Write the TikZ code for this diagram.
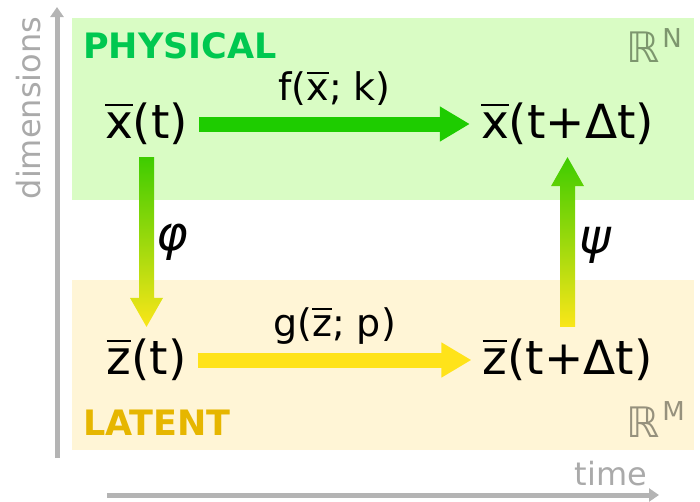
\documentclass[tikz,border=0pt]{standalone}
\usepackage{fontspec}
\setmainfont{DejaVu Sans}
\usepackage{tikz}
\usetikzlibrary{arrows.meta, positioning, calc}
\usepackage{xcolor}

\definecolor{panelgreen}{RGB}{217,252,196}
\definecolor{panelyellow}{RGB}{255,245,214}
\definecolor{arrowgreen}{RGB}{30,204,0}
\definecolor{arrowyellow}{RGB}{255,227,26}
\definecolor{shadegreen}{RGB}{62,204,0}
\definecolor{shadeyellow}{RGB}{250,230,25}
\definecolor{physgreen}{RGB}{0,200,80}
\definecolor{latgold}{RGB}{230,182,0}
\definecolor{axisgray}{RGB}{180,180,180}
\definecolor{textgray}{RGB}{170,170,170}
\definecolor{rngreen}{RGB}{125,150,110}
\definecolor{rmgray}{RGB}{150,145,125}

% bar over a letter
\newcommand\barvec[1]{\leavevmode\setbox0=\hbox{#1}%
  \rlap{\raisebox{\dimexpr\ht0+0.15em\relax}{\rule{\wd0}{0.045em}}}\box0}

\begin{document}
\begin{tikzpicture}[x=1pt, y=-1pt,
    state/.style={font=\fontsize{47}{50}\selectfont, inner xsep=11pt, inner ysep=12pt},
    maplabel/.style={font=\fontsize{38}{40}\selectfont, inner sep=0pt},
    greek/.style={font=\fontsize{48}{50}\selectfont\itshape, inner sep=0pt},
    flowarrow/.style={line width=15pt, -{Triangle[width=33pt,length=30pt]}},
    axis/.style={axisgray, line width=5pt, -{Triangle[width=13pt,length=10pt]}},
    axislabel/.style={textgray, font=\fontsize{32}{34}\selectfont, inner sep=0pt},
    spacelabel/.style={font=\fontsize{42}{44}\selectfont, inner sep=0pt, anchor=base west},
    title/.style={font=\fontsize{35}{37}\selectfont\bfseries, inner sep=0pt, anchor=base west}]
    \useasboundingbox (0,0) rectangle (700,501);

    % Panels
    \fill[panelgreen] (72,18) rectangle (694,200);
    \fill[panelyellow] (72,280) rectangle (694,450);

    % Axes
    \coordinate (dimlo) at (57,458);
    \coordinate (dimhi) at (57,7);
    \coordinate (timelo) at (107,495);
    \coordinate (timehi) at (659,495);
    \draw[axis] (dimlo) -- (dimhi);
    \draw[axis] (timelo) -- (timehi);
    \node[axislabel, rotate=90] (dimlab) at (29,108) {dimensions};
    \node[axislabel, anchor=base] (timelab) at (611,485) {time};

    % Panel titles
    \node[title, physgreen] (phys) at (83,58) {PHYSICAL};
    \node[title, latgold] (lat) at (83,435) {LATENT};
    \node[spacelabel, rngreen] (rn) at (626,62) {ℝ\hspace{3pt}\raisebox{15pt}{\fontsize{26}{26}\selectfont N}};
    \node[spacelabel, rmgray] (rm) at (626,437) {ℝ\hspace{3pt}\raisebox{17pt}{\fontsize{26}{26}\selectfont M}};

    % States
    \node[state] (xt) at (146.5,124) {\barvec{x}(t)};
    \node[state] (xdt) at (567.5,124) {\barvec{x}(t+Δt)};
    \node[state] (zt) at (146.5,360) {\barvec{z}(t)};
    \node[state] (zdt) at (567.5,360) {\barvec{z}(t+Δt)};

    % Time steps
    \draw[flowarrow, arrowgreen] (xt) -- (xdt)
        node[maplabel, midway, above=11pt, black] (flab) {f(\barvec{x}; k)};
    \draw[flowarrow, arrowyellow] (zt) -- (zdt)
        node[maplabel, midway, above=8pt, black] (glab) {g(\barvec{z}; p)};

    % Encoder (down)
    \shade[top color=shadegreen, bottom color=shadeyellow]
        ($(xt.south)+(-7.5,0)$) -- ($(zt.north)+(-7.5,-29)$) -- ($(zt.north)+(-16.5,-29)$)
        -- (zt.north) -- ($(zt.north)+(16.5,-29)$) -- ($(zt.north)+(7.5,-29)$)
        -- ($(xt.south)+(7.5,0)$) -- cycle;
    \node[greek, right=10pt] (phi) at ($(xt.south)!0.5!(zt.north)$) {φ};

    % Decoder (up)
    \shade[top color=shadegreen, bottom color=shadeyellow]
        ($(zdt.north)+(-7.5,0)$) -- ($(xdt.south)+(-7.5,29)$) -- ($(xdt.south)+(-16.5,29)$)
        -- (xdt.south) -- ($(xdt.south)+(16.5,29)$) -- ($(xdt.south)+(7.5,29)$)
        -- ($(zdt.north)+(7.5,0)$) -- cycle;
    \node[greek, right=12pt, yshift=-3pt] (psi) at ($(xdt.south)!0.5!(zdt.north)$) {ψ};
\end{tikzpicture}
\end{document}
